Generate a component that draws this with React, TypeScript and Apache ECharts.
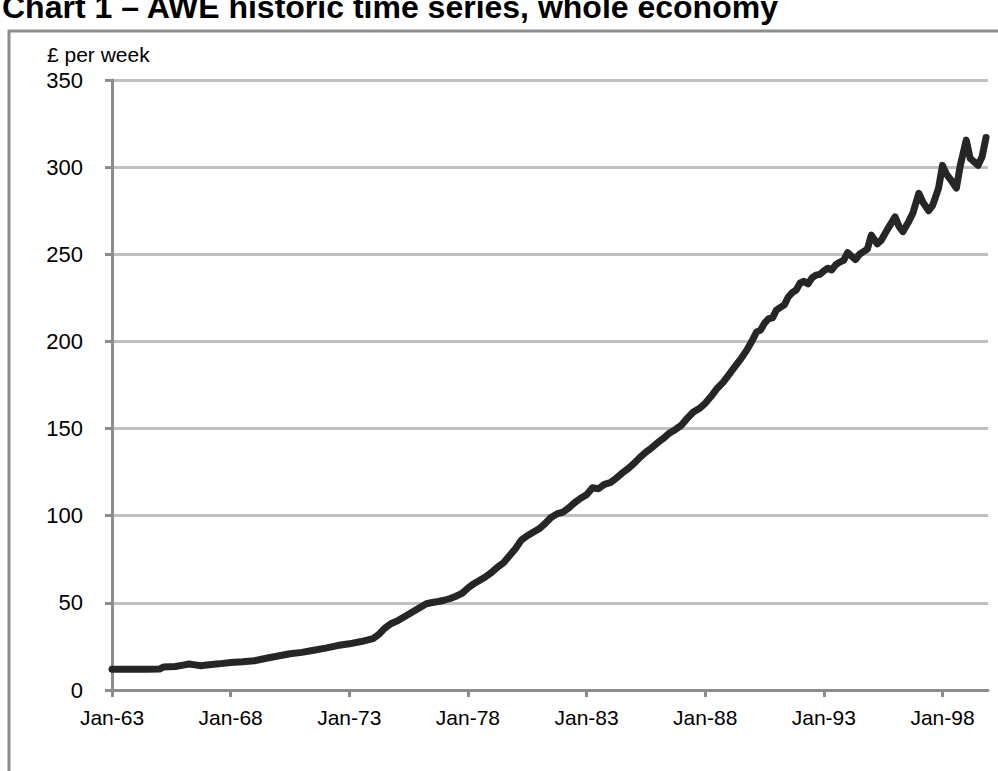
import React, { useEffect, useRef } from "react";
import * as echarts from "echarts";

const TITLE = "Chart 1 – AWE historic time series, whole economy";
const UNIT_LABEL = "£ per week";

const tickYears = [1963, 1968, 1973, 1978, 1983, 1988, 1993, 1998];
const tickLabels = ["Jan-63", "Jan-68", "Jan-73", "Jan-78", "Jan-83", "Jan-88", "Jan-93", "Jan-98"];

const months = [
  "1963-01", "1963-07", "1964-01", "1964-07", "1965-01", "1965-03", "1965-09",
  "1966-01", "1966-04", "1966-07", "1966-10", "1967-01", "1967-07",
  "1968-01", "1968-07", "1969-01", "1969-07", "1970-01", "1970-07",
  "1971-01", "1971-07", "1972-01", "1972-07", "1973-01", "1973-07",
  "1974-01", "1974-04", "1974-07", "1974-10", "1975-01", "1975-04", "1975-07", "1975-10",
  "1976-01", "1976-04", "1976-07", "1976-10", "1977-01", "1977-04", "1977-07", "1977-10",
  "1978-01", "1978-04", "1978-07", "1978-10", "1979-01", "1979-04", "1979-07", "1979-10",
  "1980-01", "1980-04", "1980-07", "1980-10", "1981-01", "1981-04", "1981-07", "1981-10",
  "1982-01", "1982-04", "1982-07", "1982-10", "1983-01", "1983-04", "1983-07", "1983-10",
  "1984-01", "1984-04", "1984-07", "1984-10", "1985-01", "1985-04", "1985-07", "1985-10",
  "1986-01", "1986-04", "1986-07", "1986-10", "1987-01", "1987-04", "1987-07", "1987-10",
  "1988-01", "1988-04", "1988-07", "1988-10", "1989-01", "1989-04", "1989-07", "1989-10",
  "1990-01", "1990-03", "1990-05", "1990-07", "1990-09", "1990-11",
  "1991-01", "1991-03", "1991-05", "1991-07", "1991-09", "1991-11",
  "1992-01", "1992-03", "1992-05", "1992-07", "1992-09", "1992-11",
  "1993-01", "1993-03", "1993-05", "1993-07", "1993-09", "1993-11",
  "1994-01", "1994-03", "1994-05", "1994-07", "1994-09", "1994-11",
  "1995-01", "1995-04", "1995-06", "1995-09",
  "1996-01", "1996-03", "1996-05", "1996-08", "1996-10",
  "1997-01", "1997-03", "1997-06", "1997-08", "1997-11",
  "1998-01", "1998-03", "1998-05", "1998-08", "1998-10",
  "1999-01", "1999-03", "1999-07", "1999-09", "1999-11",
];

const earnings = [
  11.9, 11.9, 11.9, 11.9, 12.0, 13.2, 13.5,
  14.3, 14.9, 14.4, 13.9, 14.4, 15.0,
  15.8, 16.2, 16.8, 18.2, 19.5, 20.8,
  21.6, 22.8, 24.0, 25.5, 26.5, 27.8,
  29.5, 32.0, 35.5, 38.0, 39.5, 41.5, 43.5, 45.5,
  47.5, 49.5, 50.2, 50.8, 51.5, 52.5, 53.8, 55.5,
  58.5, 61.0, 63.0, 65.0, 67.5, 70.5, 73.0, 77.0,
  81.0, 86.0, 88.5, 90.5, 92.5, 95.5, 99.0, 101.0,
  102.0, 104.5, 107.5, 110.0, 112.0, 116.0, 115.5, 118.0,
  119.0, 121.5, 124.5, 127.0, 130.0, 133.5, 136.5, 139.0,
  142.0, 144.5, 147.5, 149.5, 152.0, 156.0, 159.5, 161.5,
  164.5, 168.5, 173.0, 176.5, 181.0, 185.5, 190.0, 195.0,
  201.0, 205.5, 206.5, 210.5, 213.0, 213.5,
  218.0, 219.5, 221.0, 225.5, 228.0, 229.5,
  233.5, 234.5, 233.0, 236.5, 238.0, 238.5,
  240.5, 242.0, 241.0, 244.0, 245.5, 246.5,
  251.0, 249.0, 247.0, 250.0, 251.5, 253.0,
  261.0, 256.0, 258.0, 264.0,
  271.5, 266.0, 263.0, 269.0, 273.6,
  285.0, 280.0, 275.0, 278.0, 288.0,
  301.0, 296.0, 293.0, 288.0, 301.0,
  315.5, 305.0, 301.0, 306.0, 317.0,
];

const X_MIN = 1963;
const X_MAX = 1999 + 11 / 12;

function toYear(m: string): number {
  const [y, mo] = m.split("-").map(Number);
  return y + (mo - 1) / 12;
}

const FONT = "'Liberation Sans', Arial, Helvetica, sans-serif";

export default function App() {
  const ref = useRef<HTMLDivElement>(null);

  useEffect(() => {
    if (!ref.current) return;
    const chart = echarts.init(ref.current, undefined, { renderer: "svg" });
    const seriesData = months.map((m, i) => [toYear(m), earnings[i]]);
    chart.setOption({
      animation: false,
      backgroundColor: "#ffffff",
      textStyle: { fontFamily: FONT },
      graphic: [
        {
          type: "rect",
          shape: { x: 9, y: 31, width: 1200, height: 1000 },
          style: { fill: "none", stroke: "#8c8c8c", lineWidth: 3 },
          z: 0,
        },
        {
          type: "text",
          x: 2,
          y: 23,
          style: {
            text: TITLE,
            font: `bold 32px ${FONT}`,
            fill: "#000000",
            verticalAlign: "bottom",
            align: "left",
          },
        },
        {
          type: "text",
          x: 47,
          y: 54,
          style: {
            text: UNIT_LABEL,
            font: `21px ${FONT}`,
            fill: "#000000",
            verticalAlign: "middle",
            align: "left",
          },
        },
      ],
      grid: { left: 112, right: 10, top: 80, bottom: 81, containLabel: false },
      xAxis: {
        type: "value",
        min: X_MIN,
        max: X_MAX,
        splitLine: { show: false },
        axisLine: { show: true, onZero: false, lineStyle: { color: "#8c8c8c", width: 3 } },
        axisTick: {
          show: true,
          customValues: tickYears,
          length: 7,
          lineStyle: { color: "#8c8c8c", width: 3 },
        },
        axisLabel: {
          customValues: tickYears,
          formatter: (v: number) => {
            const idx = tickYears.indexOf(Math.round(v));
            return idx >= 0 ? tickLabels[idx] : "";
          },
          fontSize: 21,
          color: "#000000",
          fontFamily: FONT,
          margin: 17,
        },
      },
      yAxis: {
        type: "value",
        min: 0,
        max: 350,
        interval: 50,
        splitLine: { show: true, lineStyle: { color: "#c0c0c0", width: 3 } },
        axisLine: { show: true, lineStyle: { color: "#8c8c8c", width: 3 } },
        axisTick: { show: true, length: 7, lineStyle: { color: "#8c8c8c", width: 3 } },
        axisLabel: { fontSize: 22, color: "#000000", fontFamily: FONT, margin: 29 },
      },
      series: [
        {
          type: "line",
          data: seriesData,
          showSymbol: false,
          symbol: "none",
          lineStyle: { color: "#262626", width: 7, cap: "round", join: "round" },
          z: 3,
        },
      ],
    });
    return () => chart.dispose();
  }, []);

  return (
    <div
      ref={ref}
      style={{ position: "absolute", left: 0, top: 0, width: 998, height: 771 }}
    />
  );
}
